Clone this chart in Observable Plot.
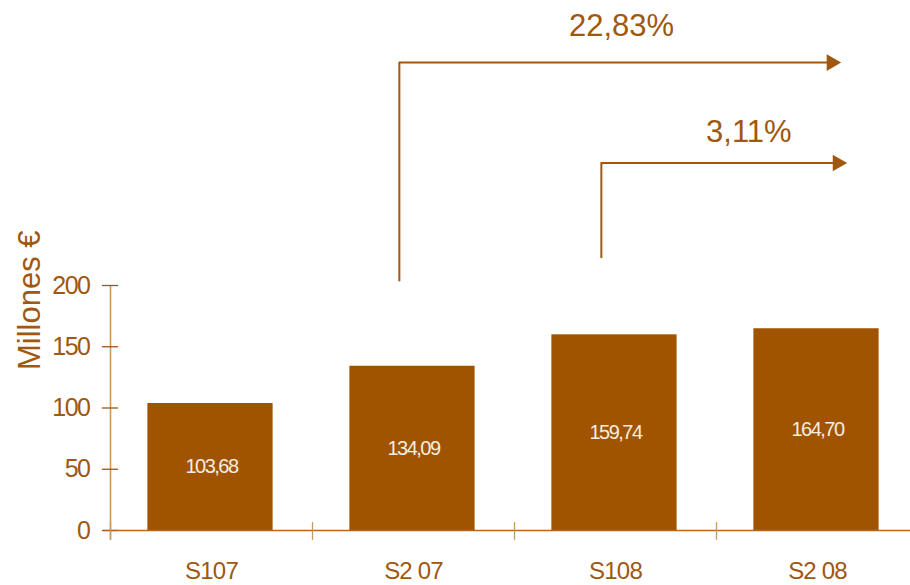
<!DOCTYPE html>
<html>
<head>
<meta charset="utf-8">
<script src="https://cdn.jsdelivr.net/npm/d3@7"></script>
<script src="https://cdn.jsdelivr.net/npm/@observablehq/plot@0.6"></script>
<style>
  html, body { margin: 0; padding: 0; background: #fff; }
  .narrow text { letter-spacing: -1.5px; }
  .vlabel text { letter-spacing: -0.8px; }
</style>
</head>
<body>
<div id="chart"></div>
<script>
// ---- data ----
const categories = ["S107", "S2 07", "S108", "S2 08"];
const values = [103.68, 134.09, 159.74, 164.70];
const valueLabels = ["103,68", "134,09", "159,74", "164,70"];
const yTicks = [0, 50, 100, 150, 200];
const yTickLabels = ["0", "50", "100", "150", "200"];
const yTitle = "Millones €";

// growth annotations: start category index, base/top levels (in y units), label
const growthLabels = ["22,83%", "3,11%"];
const growthFrom = [1, 2];            // category the arrow rises from
const growthBase = [203, 222];        // y value where vertical stem starts
const growthLevel = [382, 300];       // y value of horizontal shaft
const growthTip = [3.614, 3.644];     // x (category-index units) of arrow tip
const growthLabelX = [2.53, 3.16];
const growthLabelY = [404, 317];

const brown = "#a0570f";
const barFill = "#a05400";

const bars = categories.map((c, i) => ({i, c, v: values[i], lab: valueLabels[i]}));
const ticks = yTicks.map((t, i) => ({t, lab: yTickLabels[i]}));
const arrows = growthLabels.map((lab, k) => ({
  lab, x0: growthFrom[k] + 0.43, y0: growthBase[k], y1: growthLevel[k],
  tip: growthTip[k], lx: growthLabelX[k], ly: growthLabelY[k]
}));

const chart = Plot.plot({
  width: 910,
  height: 585,
  marginLeft: 110,
  marginRight: 0,
  marginTop: 0,
  marginBottom: 55,
  x: {domain: [0, 4], range: [110, 918], axis: null},
  y: {domain: [0, 200], range: [530, 285], axis: null},
  style: {fontFamily: "'Liberation Sans', Arial, sans-serif", background: "#fff", overflow: "visible"},
  marks: [
    // bars
    Plot.rectY(bars, {x1: d => d.i + 0.185, x2: d => d.i + 0.805, y: "v", fill: barFill}),
    // value labels inside bars
    Plot.text(bars, {x: d => d.i + 0.5, y: d => d.v / 2, text: "lab", fill: "#f6ece0",
      fontSize: 20, className: "narrow"}),
    // y axis line
    Plot.ruleX([0], {y1: -8, y2: 200, stroke: "#c9975f", strokeWidth: 1.6}),
    // y ticks (crossing)
    Plot.ruleY(ticks, {y: "t", x1: -0.04, x2: 0.04, stroke: brown, strokeWidth: 1.3}),
    // y tick labels
    Plot.text(ticks, {x: 0, y: "t", text: "lab", dx: -21, textAnchor: "end", fill: brown,
      fontSize: 25, className: "narrow"}),
    // x axis line
    Plot.ruleY([0], {x1: -0.035, x2: 4, stroke: "#b8661e", strokeWidth: 1.6}),
    // x boundary ticks
    Plot.ruleX([0, 1, 2, 3], {y1: -8, y2: 6.5, stroke: "#c9975f", strokeWidth: 1.3}),
    // x category labels
    Plot.text(bars, {x: d => d.i + 0.5, y: 0, text: "c", dy: 41, fill: brown, fontSize: 24,
      className: "vlabel"}),
    // y title
    Plot.text([yTitle], {frameAnchor: "left", y: 188, dx: -80, rotate: -90, fill: brown,
      fontSize: 31, textAnchor: "middle"}),
    // growth arrows: vertical stem
    Plot.ruleX(arrows, {x: "x0", y1: "y0", y2: "y1", stroke: brown, strokeWidth: 2}),
    // horizontal shaft
    Plot.ruleY(arrows, {y: "y1", x1: "x0", x2: d => d.tip - 0.05, stroke: brown, strokeWidth: 2}),
    // arrow heads
    Plot.dot(arrows, {x: "tip", y: "y1", dx: -9, symbol: "triangle", rotate: 90, r: 6.2,
      fill: brown, stroke: "none"}),
    // growth labels
    Plot.text(arrows, {x: "lx", y: "ly", text: "lab", fill: brown, fontSize: 31,
      lineAnchor: "bottom"})
  ]
});
document.getElementById("chart").appendChild(chart);
</script>
</body>
</html>
